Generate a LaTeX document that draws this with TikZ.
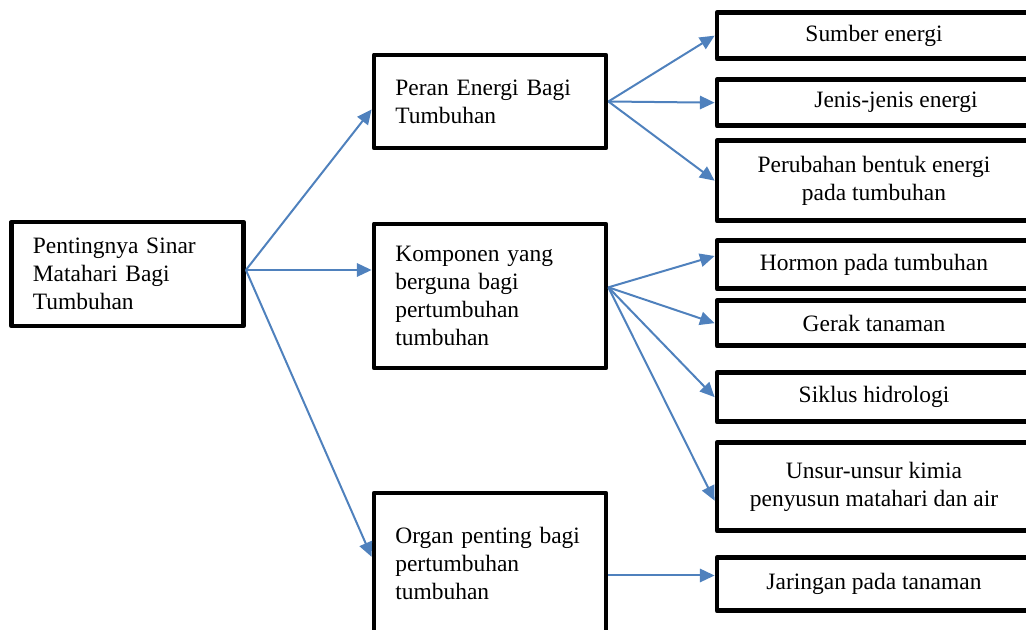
\documentclass[tikz,border=0pt]{standalone}
\usepackage{fontspec}
\setmainfont{Liberation Serif}
\usetikzlibrary{arrows.meta}
\definecolor{linkblue}{RGB}{79,129,189}

\begin{document}
\begin{tikzpicture}[
    x=0.75pt, y=-0.75pt,
    >={Triangle[length=11pt,width=10pt]},
    every node/.style={
        rectangle,
        draw,
        line width=3.6pt,
        line join=round,
        inner ysep=0pt,
        font=\fontsize{17.6pt}{21pt}\selectfont
    },
    leftbox/.style={align=left, text width=142pt, inner xsep=16pt, minimum width=174pt},
    rightbox/.style={align=center, minimum width=235.5pt, yshift=-2pt},
    link/.style={->, draw=linkblue, line width=1.5pt}
]
\useasboundingbox (0,0) rectangle (1026,630);

% Nodes
\node (root)  [leftbox, minimum height=78pt]     at (127.5,274) {Pentingnya Sinar\\Matahari Bagi\\Tumbuhan};
\node (peran) [leftbox, minimum height=69.75pt]  at (490,101.5) {Peran Energi Bagi\\Tumbuhan};
\node (komp)  [leftbox, minimum height=108pt]    at (490,296)   {Komponen yang\\berguna bagi\\pertumbuhan\\tumbuhan};
\node (organ) [leftbox, minimum height=105.75pt] at (490,563.5) {Organ penting bagi\\pertumbuhan\\tumbuhan};

\node (sumber)    [rightbox, minimum height=34.5pt]  at (874,33)    {Sumber energi};
\node (jenis)     [rightbox, minimum height=34.5pt]  at (874,100)   {\hspace*{33pt}Jenis-jenis energi};
\node (perubahan) [rightbox, minimum height=60pt]    at (874,178)   {Perubahan bentuk energi\\pada tumbuhan};
\node (hormon)    [rightbox, minimum height=36pt]    at (874,262)   {Hormon pada tumbuhan};
\node (gerak)     [rightbox, minimum height=33.75pt] at (874,320.5) {Gerak tanaman};
\node (siklus)    [rightbox, minimum height=36.75pt] at (874,394.5) {Siklus hidrologi};
\node (unsur)     [rightbox, minimum height=66pt]    at (874,484)   {Unsur-unsur kimia\\penyusun matahari dan air};
\node (jaringan)  [rightbox, minimum height=39.75pt] at (874,581.5) {Jaringan pada tanaman};

% Edges
\draw[link] ([yshift=3pt]root.east) -- ([yshift=-6pt]peran.west);
\draw[link] ([yshift=3pt]root.east) -- ([yshift=3pt]root.east -| komp.west);
\draw[link] ([yshift=3pt]root.east) -- ([yshift=5pt]organ.west);

\draw[link] (peran.east) -- (sumber.west);
\draw[link] (peran.east) -- (jenis.west);
\draw[link] (peran.east) -- (perubahan.west);

\draw[link] ([yshift=6.5pt]komp.east) -- ([yshift=6.5pt]hormon.west);
\draw[link] ([yshift=6.5pt]komp.east) -- (gerak.west);
\draw[link] ([yshift=6.5pt]komp.east) -- (siklus.west);
\draw[link] ([yshift=6.5pt]komp.east) -- ([yshift=-10.5pt]unsur.west);

\draw[link] ([yshift=6.5pt]jaringan.west -| organ.east) -- ([yshift=6.5pt]jaringan.west);

\end{tikzpicture}
\end{document}
